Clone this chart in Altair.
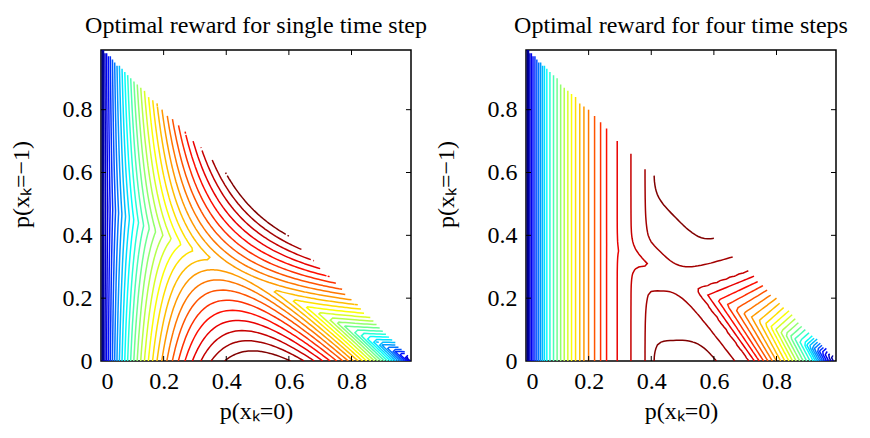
import numpy as np
import pandas as pd
import altair as alt

# ---------------- values ----------------
TITLES = ["Optimal reward for single time step", "Optimal reward for four time steps"]
X_TITLE = "p(x\u2096=0)"
Y_TITLE = "p(x\u2096=\u22121)"
TICKS = [0, 0.2, 0.4, 0.6, 0.8]
AXIS_MAX = 0.99          # belief grid runs 0 .. 0.99
GRID_STEP = 0.01
LEVEL_IDS = list(range(1, 31))      # 30 contour levels per panel

# left panel: one-step reward (bits) of the belief (p0, p-1, p1); levels equally spaced in (0, 1)
LEFT_LEVEL_VALUES = [k / 31 for k in LEVEL_IDS]

# right panel: level index read along the edges of the simplex
VL_X = [0.0, 0.003, 0.02, 0.065, 0.105, 0.145, 0.195, 0.265, 0.335, 0.38, 0.407, 0.45, 0.5, 1.0]
VL_LEV = [0, 1, 4.6, 12, 15.5, 19, 22.75, 26.4, 28, 29, 30, 31, 32, 40]
VR_U = [0.55, 0.61, 0.667, 0.714, 0.745, 0.79, 0.84, 0.88, 0.918, 0.962, 0.985, 1.0]
VR_LEV = [31, 30, 29, 28, 26, 22.75, 19, 15.5, 12, 4.6, 1.5, 0]
VT_M = [0.0, 0.066, 0.226, 0.303, 0.5]
VT_LEV = [30.7, 30, 29, 28, 25.5]
C_U = [0.70, 0.82]
C_VAL = [0.77, 0.53]
RIGHT_LEVEL_VALUES = [float(k) for k in LEVEL_IDS]

FONT = "Liberation Serif"
FS = 24


def jet(t):
    r = np.clip(min(4 * t - 1.5, -4 * t + 4.5), 0, 1)
    g = np.clip(min(4 * t - 0.5, -4 * t + 3.5), 0, 1)
    b = np.clip(min(4 * t + 0.5, -4 * t + 2.5), 0, 1)
    return "#%02x%02x%02x" % (int(round(r * 255)), int(round(g * 255)), int(round(b * 255)))


JET = [jet((k - 1) / (len(LEVEL_IDS) - 1)) for k in LEVEL_IDS]

# ---------------- fields on the belief grid ----------------
xs = np.round(np.arange(0, AXIS_MAX + 1e-9, GRID_STEP), 2)
ys = xs.copy()
X, Y = np.meshgrid(xs, ys)
outside = X + Y > 1 + 1e-9
P1 = np.clip(1 - X - Y, 0, None)


def h2(q):
    q = np.clip(q, 0, 1)
    with np.errstate(divide="ignore", invalid="ignore"):
        a = np.where(q > 0, -q * np.log2(np.where(q > 0, q, 1)), 0.0)
        b = np.where(q < 1, -(1 - q) * np.log2(np.where(q < 1, 1 - q, 1)), 0.0)
    return a + b


Mx = np.maximum(Y, P1)
S = X + Mx
Z_left = S * h2(X / S)
Z_left[outside] = np.nan

m = np.minimum(Y, P1)
VL = np.interp(X, VL_X, VL_LEV)
u = X + 0.6 * m
for _ in range(30):
    u = X + np.interp(u, C_U, C_VAL) * m
VR = np.interp(u, VR_U, VR_LEV)
VT = np.interp(m, VT_M, VT_LEV)
tau = 0.3
Z_right = -tau * np.log(np.exp(-VL / tau) + np.exp(-VR / tau) + np.exp(-VT / tau))
Z_right[outside] = np.nan


# ---------------- marching squares ----------------
def contour_paths(Z, level):
    valid = ~np.isnan(Z)
    above = np.where(valid, np.nan_to_num(Z, nan=-1e9) >= level, False)
    cv = valid[:-1, :-1] & valid[:-1, 1:] & valid[1:, 1:] & valid[1:, :-1]
    cnt = (above[:-1, :-1].astype(int) + above[:-1, 1:] + above[1:, 1:] + above[1:, :-1])
    js, is_ = np.nonzero(cv & (cnt > 0) & (cnt < 4))
    pts = {}

    def edge_pt(e):
        if e in pts:
            return pts[e]
        kind, i, j = e
        if kind == "h":
            za, zb = Z[j, i], Z[j, i + 1]
            t = (level - za) / (zb - za)
            p = (xs[i] + t * (xs[i + 1] - xs[i]), ys[j])
        else:
            za, zb = Z[j, i], Z[j + 1, i]
            t = (level - za) / (zb - za)
            p = (xs[i], ys[j] + t * (ys[j + 1] - ys[j]))
        pts[e] = p
        return p

    segs = []
    for j, i in zip(js, is_):
        c = [above[j, i], above[j, i + 1], above[j + 1, i + 1], above[j + 1, i]]
        edges = [("h", i, j), ("v", i + 1, j), ("h", i, j + 1), ("v", i, j)]
        cross = [k for k in range(4) if c[k] != c[(k + 1) % 4]]
        if len(cross) == 2:
            segs.append((edges[cross[0]], edges[cross[1]]))
        else:
            center = (Z[j, i] + Z[j, i + 1] + Z[j + 1, i + 1] + Z[j + 1, i]) / 4 >= level
            for k in range(4):
                if c[k] != center:
                    segs.append((edges[(k - 1) % 4], edges[k]))
    adj = {}
    for n, (e1, e2) in enumerate(segs):
        adj.setdefault(e1, []).append(n)
        adj.setdefault(e2, []).append(n)
    used = set()
    paths = []

    def walk(sn, se):
        path = [se]
        cur, ce = sn, se
        while True:
            used.add(cur)
            e1, e2 = segs[cur]
            ne = e2 if e1 == ce else e1
            path.append(ne)
            nxt = [s for s in adj[ne] if s not in used]
            if not nxt:
                break
            cur, ce = nxt[0], ne
        return path

    for e, lst in adj.items():
        if len(lst) == 1 and lst[0] not in used:
            paths.append(walk(lst[0], e))
    for n in range(len(segs)):
        if n not in used:
            paths.append(walk(n, segs[n][0]))
    return [[edge_pt(e) for e in p] for p in paths]


def contour_frame(Z, values):
    rows = []
    lid = 0
    for k, lv in zip(LEVEL_IDS, values):
        for path in contour_paths(Z, lv):
            lid += 1
            for s, (px, py) in enumerate(path):
                rows.append((k, lid, s, round(float(px), 4), round(float(py), 4)))
    return pd.DataFrame(rows, columns=["level", "line", "seq", "x", "y"])


df_left = contour_frame(Z_left, LEFT_LEVEL_VALUES)
df_right = contour_frame(Z_right, RIGHT_LEVEL_VALUES)

# inward tick marks (as in the reference's boxed axes)
TL = 0.016
tick_rows = []
for v in TICKS[1:]:
    tick_rows.append((v, v, 0.0, TL))
    tick_rows.append((v, v, AXIS_MAX, AXIS_MAX - TL))
    tick_rows.append((0.0, TL, v, v))
    tick_rows.append((AXIS_MAX, AXIS_MAX - TL, v, v))
df_ticks = pd.DataFrame(tick_rows, columns=["x", "x2", "y", "y2"])

scale = alt.Scale(domain=[0, AXIS_MAX], nice=False, zero=False)
x_axis = alt.Axis(values=TICKS, format="~g", title=X_TITLE, grid=False, ticks=False, domain=False,
                  labelPadding=8, titlePadding=6)
y_axis = alt.Axis(values=TICKS, format="~g", title=Y_TITLE, grid=False, ticks=False, domain=False,
                  labelPadding=9, titlePadding=29, titleY=134)


def panel(df, title):
    lines = alt.Chart(df).mark_line(strokeWidth=1.5, clip=True).encode(
        x=alt.X("x:Q", scale=scale, axis=x_axis),
        y=alt.Y("y:Q", scale=scale, axis=y_axis),
        detail="line:N",
        order="seq:Q",
        color=alt.Color("level:O", scale=alt.Scale(domain=LEVEL_IDS, range=JET), legend=None),
    )
    ticks = alt.Chart(df_ticks).mark_rule(color="black", strokeWidth=1).encode(
        x=alt.X("x:Q", scale=scale, axis=x_axis), x2="x2:Q",
        y=alt.Y("y:Q", scale=scale, axis=y_axis), y2="y2:Q",
    )
    return alt.layer(lines, ticks).properties(
        width=310, height=311,
        title=alt.TitleParams(title, font=FONT, fontSize=FS, fontWeight="normal",
                              anchor="middle", frame="group", offset=12, color="black"),
    )


chart = alt.hconcat(panel(df_left, TITLES[0]), panel(df_right, TITLES[1]), spacing=5).properties(
    padding={"left": 8, "top": 12, "right": 0, "bottom": 0},
    background="white",
).configure_view(stroke="black", strokeWidth=1.5).configure_axis(
    labelFont=FONT, labelFontSize=FS, labelColor="black",
    titleFont=FONT, titleFontSize=FS, titleFontWeight="normal", titleColor="black",
)

chart.save("out.html", embed_options={"renderer": "svg", "actions": False})
